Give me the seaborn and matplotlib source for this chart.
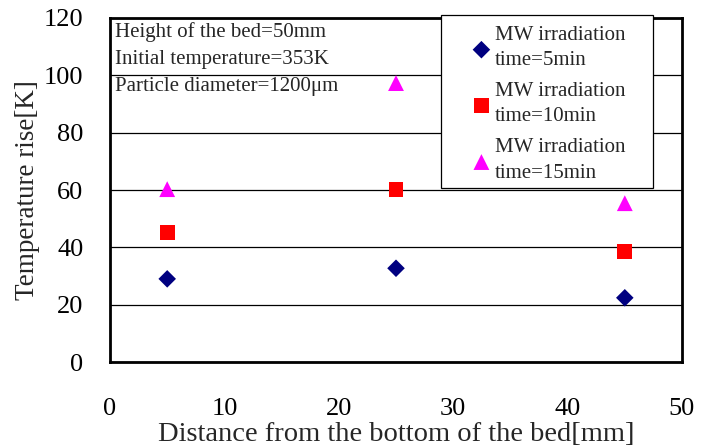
import matplotlib
matplotlib.use("Agg")
import matplotlib.pyplot as plt
import matplotlib.patches as mpatches
import seaborn as sns
import pandas as pd

distance = [5, 25, 45]
rise_5min = [29.0, 32.7, 22.4]
rise_10min = [45.1, 60.3, 38.5]
rise_15min = [60.3, 97.3, 55.4]
series_labels = ["MW irradiation\ntime=5min", "MW irradiation\ntime=10min", "MW irradiation\ntime=15min"]
colors = ["#000080", "#FF0000", "#FF00FF"]
markers = ["D", "s", "^"]
annotations = ["Height of the bed=50mm", "Initial temperature=353K", "Particle diameter=1200\u03bcm"]

rows = []
for lab, vals in zip(series_labels, [rise_5min, rise_10min, rise_15min]):
    for x, y in zip(distance, vals):
        rows.append({"Distance": x, "Rise": y, "Series": lab})
df = pd.DataFrame(rows)

sns.set_style("white")
plt.rcParams["font.family"] = ["Liberation Serif", "DejaVu Serif"]

W, H = 703, 448
fig = plt.figure(figsize=(W / 100, H / 100), dpi=100)
ax = fig.add_axes([110 / W, 1 - 362 / H, 572 / W, 344 / H])

sizes = {series_labels[0]: 80, series_labels[1]: 115, series_labels[2]: 130}
for lab, col, mk in zip(series_labels, colors, markers):
    sub = df[df["Series"] == lab]
    sns.scatterplot(data=sub, x="Distance", y="Rise", ax=ax, color=col, marker=mk,
                    s=sizes[lab], edgecolor="none", linewidth=0, label=lab, zorder=3)

ax.set_xlim(0, 50)
ax.set_ylim(0, 120)
ax.set_xticks([0, 10, 20, 30, 40, 50])
ax.set_yticks([0, 20, 40, 60, 80, 100, 120])
ax.yaxis.grid(True, color="black", linewidth=0.9)
ax.xaxis.grid(False)
ax.set_axisbelow(True)
for s in ax.spines.values():
    s.set_visible(True)
    s.set_color("black")
    s.set_linewidth(2)
ax.tick_params(axis="x", direction="in", length=6, width=1, pad=26, labelsize=19, colors="black")
ax.tick_params(axis="y", direction="in", length=4, width=1, pad=19, labelsize=19, colors="black")
ax.set_xlabel("Distance from the bottom of the bed[mm]", fontsize=20.5, labelpad=1)
ax.set_ylabel("Temperature rise[K]", fontsize=19.5, labelpad=3)

for i, t in enumerate(annotations):
    ax.text(5 / 572, 1 - (i * 27.5 + 14) / 344, t, transform=ax.transAxes, fontsize=15,
            va="center", ha="left", zorder=2)

# legend box
box = mpatches.Rectangle((441 / W, 1 - 188 / H), (653 - 441) / W, (188 - 15) / H,
                         transform=fig.transFigure, facecolor="white", edgecolor="black",
                         linewidth=0.9, zorder=4)
fig.patches.append(box)

handles, labels = ax.get_legend_handles_labels()
ax.get_legend().remove()
leg = fig.legend(handles, labels, loc="upper left", bbox_to_anchor=(471 / W, 1 - 26 / H),
                 bbox_transform=fig.transFigure, frameon=False,
                 fontsize=15, handletextpad=0.15, labelspacing=0.57, borderpad=0,
                 borderaxespad=0, handlelength=1.0, markerscale=1.0)
for t in leg.get_texts():
    t.set_linespacing(1.45)
leg.set_zorder(5)

fig.savefig("out.png", dpi=100)
